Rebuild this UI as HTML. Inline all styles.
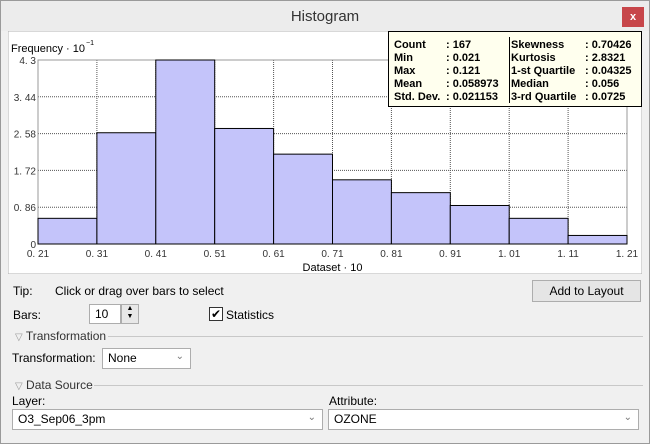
<!DOCTYPE html>
<html><head><meta charset="utf-8"><style>
body{margin:0;width:650px;height:444px;overflow:hidden;background:#f0f0f0;font-family:"Liberation Sans",sans-serif;font-size:12px;color:#000}
.win{position:absolute;left:0;top:0;width:648px;height:442px;border:1px solid #9a9a9a;background:#f0f0f0}
.abs{position:absolute}
.combo{position:absolute;background:#fff;border:1px solid #adadad;height:20px;box-sizing:border-box;padding:2px 5px;font-size:12px}
.combo .arr{position:absolute;right:6px;top:2px;color:#777;font-size:10px}
.sep{position:absolute;height:1px;background:#c8c8c8}
</style></head><body>
<div class="win">
<div class="abs" style="left:0;top:0;width:648px;height:30px;background:#ececec">
 <div class="abs" style="left:0;width:648px;top:7px;text-align:center;font-size:15px;color:#333">Histogram</div>
 <div class="abs" style="left:621px;top:6px;width:22px;height:20px;background:#c7464a;color:#fff;text-align:center;font-size:11px;line-height:20px;font-weight:bold">x</div>
</div>
<svg class="abs" style="left:7px;top:30px" width="634" height="243" id="chart"></svg>
<div class="abs" style="left:12px;top:283px">Tip:</div>
<div class="abs" style="left:54px;top:283px">Click or drag over bars to select</div>
<div class="abs" style="left:531px;top:279px;width:107px;height:20px;border:1px solid #adadad;background:#e5e5e5;text-align:center;line-height:20px">Add to Layout</div>
<div class="abs" style="left:12px;top:307px">Bars:</div>
<div class="combo" style="left:88px;top:303px;width:32px;height:20px">10</div>
<div class="abs" style="left:120px;top:303px;width:16px;height:18px;border:1px solid #adadad;background:#e8e8e8;font-size:7px;line-height:8px;text-align:center">▲<br>▼</div>
<div class="abs" style="left:208px;top:306px;width:12px;height:12px;border:1px solid #333;background:#fff;font-size:12px;line-height:12px;text-align:center">✔</div>
<div class="abs" style="left:225px;top:307px">Statistics</div>
<div class="abs" style="left:14px;top:328px;color:#333"><span style="color:#999;font-size:10px">▽</span> Transformation</div>
<div class="sep" style="left:107px;top:335px;width:535px"></div>
<div class="abs" style="left:11px;top:350px">Transformation:</div>
<div class="combo" style="left:101px;top:347px;width:89px;height:21px">None<span class="arr">⌄</span></div>
<div class="abs" style="left:14px;top:377px;color:#333"><span style="color:#999;font-size:10px">▽</span> Data Source</div>
<div class="sep" style="left:93px;top:384px;width:549px"></div>
<div class="abs" style="left:11px;top:393px">Layer:</div>
<div class="combo" style="left:11px;top:408px;width:311px;height:21px">O3_Sep06_3pm<span class="arr">⌄</span></div>
<div class="abs" style="left:328px;top:393px">Attribute:</div>
<div class="combo" style="left:327px;top:408px;width:311px;height:21px">OZONE<span class="arr">⌄</span></div>
</div>
<script>
const binEdges=["0.21","0.31","0.41","0.51","0.61","0.71","0.81","0.91","1.01","1.11","1.21"];
const counts=[6,26,43,27,21,15,12,9,6,2];
const yTicks=["0","0.86","1.72","2.58","3.44","4.3"];
const yMax=4.3;
const statsLeft=[["Count",": 167"],["Min",": 0.021"],["Max",": 0.121"],["Mean",": 0.058973"],["Std. Dev.",": 0.021153"]];
const statsRight=[["Skewness",": 0.70426"],["Kurtosis",": 2.8321"],["1-st Quartile",": 0.04325"],["Median",": 0.056"],["3-rd Quartile",": 0.0725"]];
const svg=document.getElementById('chart');const NS='http://www.w3.org/2000/svg';
function mk(t,a,txt){const e=document.createElementNS(NS,t);for(const k in a)e.setAttribute(k,a[k]);if(txt!==undefined)e.textContent=txt;svg.appendChild(e);return e;}
const L=30,R=619,T=29,B=213;
const nb=counts.length;
const xs=i=>L+(R-L)*i/nb;
const ys=v=>B-(B-T)*v/yMax;
let e=mk('rect',{x:0,y:0,width:634,height:243,fill:'#fff',stroke:'#b0b0b0'});


yTicks.forEach(t=>{const y=ys(+t);
 e=mk('line',{x1:L,x2:R,y1:y,y2:y,stroke:'#555','stroke-dasharray':'1,1'});
 
 
 e=mk('text',{x:L-2,y:y+4,'text-anchor':'end','font-size':10,fill:'#333'},t.replace('.','. '));
 
 
});
binEdges.forEach((t,i)=>{const x=xs(i);
 e=mk('line',{x1:x,x2:x,y1:T,y2:B,stroke:'#555','stroke-dasharray':'1,1'});
 
 
 e=mk('text',{x:x,y:B+13,'text-anchor':'middle','font-size':10,fill:'#333'},t.replace('.','. '));
 
 
});
e=mk('rect',{x:L,y:T,width:R-L,height:B-T,fill:'none',stroke:'#999'});


counts.forEach((c,i)=>{const v=c/10;
 e=mk('rect',{x:xs(i),y:ys(v),width:xs(i+1)-xs(i),height:B-ys(v),fill:'#c4c4fa',stroke:'#000','stroke-width':1});
 
 
});
e=mk('line',{x1:L,x2:R,y1:B,y2:B,stroke:'#000'});


e=mk('text',{x:3,y:21,'font-size':11},'Frequency · 10');


e=mk('text',{x:78,y:14,'font-size':7},'−1');


e=mk('text',{x:(L+R)/2,y:240,'font-size':11,'text-anchor':'middle'},'Dataset · 10');


e=mk('rect',{x:380.5,y:0.5,width:253,height:75,fill:'#ffffee',stroke:'#000'});


e=mk('line',{x1:501.5,x2:501.5,y1:6,y2:72,stroke:'#000'});


statsLeft.forEach((s,i)=>{
 e=mk('text',{x:386,y:17+i*13,'font-size':11,'font-weight':'bold'},s[0]);
 
 
 e=mk('text',{x:438,y:17+i*13,'font-size':11,'font-weight':'bold'},s[1]);
 
 
});
statsRight.forEach((s,i)=>{
 e=mk('text',{x:503,y:17+i*13,'font-size':11,'font-weight':'bold'},s[0]);
 
 
 e=mk('text',{x:577,y:17+i*13,'font-size':11,'font-weight':'bold'},s[1]);
 
 
});
</script>
</body></html>
